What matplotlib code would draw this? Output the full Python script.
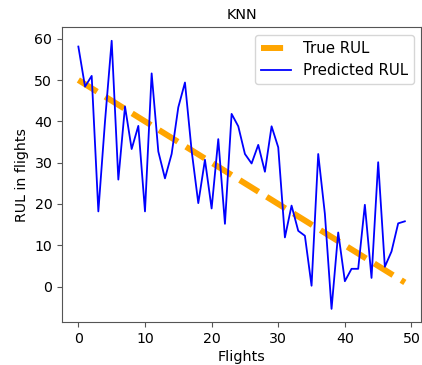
import numpy as np
import matplotlib
matplotlib.use('Agg')
import matplotlib.pyplot as plt

flights = np.arange(50)
true_rul = np.arange(50, 0, -1)
pred_rul = [58.1, 48.4, 51.0, 18.2, 40.0, 59.5, 25.9, 43.6, 33.3, 38.9,
            18.2, 51.6, 32.7, 26.2, 32.1, 43.4, 49.4, 32.9, 20.2, 30.7,
            18.9, 35.7, 15.2, 41.8, 38.8, 32.1, 29.8, 34.3, 27.8, 38.8,
            33.7, 11.9, 19.6, 13.5, 12.3, 0.2, 32.1, 17.6, -5.4, 13.1,
            1.3, 4.3, 4.3, 19.8, 2.1, 30.1, 4.8, 8.5, 15.3, 15.8]

fig = plt.figure(figsize=(4.22, 3.65), dpi=100)
ax = fig.add_axes([0.147, 0.117, 0.851, 0.808])
ax.plot(flights, true_rul, '--', color='orange', lw=4.3, label='True RUL')
ax.plot(flights, pred_rul, color='blue', lw=1.3, label='Predicted RUL')
ax.set_title('KNN', fontsize=10.4)
ax.set_xlabel('Flights', fontsize=10.4, labelpad=3)
ax.set_ylabel('RUL in flights', fontsize=10.2)
ax.tick_params(labelsize=10.2)
for s in ax.spines.values():
    s.set_color('#555555')
ax.tick_params(color='#555555')
ax.legend(loc='upper right', fontsize=10.8)
fig.savefig('out.png', dpi=100)
